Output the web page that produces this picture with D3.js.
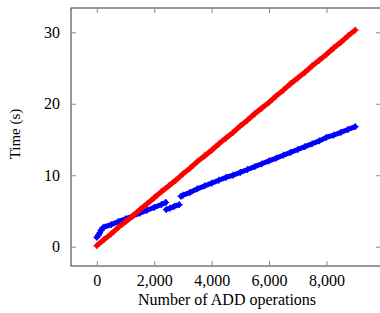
<!DOCTYPE html>
<html>
<head>
<meta charset="utf-8">
<script src="https://cdn.jsdelivr.net/npm/d3@7"></script>
<style>
  body { margin: 0; background: #fff; }
  text { font-family: "Liberation Serif", "DejaVu Serif", serif; fill: #000; }
</style>
</head>
<body>
<svg id="chart" width="380" height="313"></svg>
<script>
// red series (one continuous run)
var redOps  = [0, 250, 500, 750, 1000, 1250, 1500, 1750, 2000, 2250, 2500, 2750, 3000, 3250, 3500, 3750, 4000, 4250, 4500, 4750, 5000, 5250, 5500, 5750, 6000, 6250, 6500, 6750, 7000, 7250, 7500, 7750, 8000, 8250, 8500, 8750, 9000];
var redTime = [0.15, 1.0, 1.8, 2.7, 3.5, 4.3, 5.2, 6.0, 6.85, 7.7, 8.5, 9.3, 10.2, 11.0, 11.9, 12.7, 13.5, 14.4, 15.2, 16.0, 16.9, 17.7, 18.6, 19.4, 20.2, 21.1, 21.9, 22.8, 23.6, 24.4, 25.3, 26.1, 26.9, 27.8, 28.6, 29.5, 30.3];

// blue series, three runs with gaps between them
var blueOps1  = [0, 50, 100, 150, 200, 250, 500, 750, 1000, 1250, 1500, 1750, 2000, 2250, 2400];
var blueTime1 = [1.3, 1.6, 1.9, 2.3, 2.6, 2.75, 3.1, 3.5, 3.9, 4.3, 4.7, 5.1, 5.5, 5.9, 6.2];
var blueOps2  = [2420, 2550, 2700, 2870];
var blueTime2 = [5.2, 5.4, 5.65, 5.9];
var blueOps3  = [2930, 3000, 3250, 3500, 3750, 4000, 4250, 4500, 4750, 5000, 5250, 5500, 5750, 6000, 6250, 6500, 6750, 7000, 7250, 7500, 7750, 8000, 8250, 8500, 8750, 9000];
var blueTime3 = [7.05, 7.2, 7.6, 8.1, 8.5, 8.9, 9.3, 9.7, 10.0, 10.4, 10.8, 11.2, 11.6, 12.0, 12.4, 12.8, 13.2, 13.6, 14.0, 14.4, 14.8, 15.3, 15.6, 16.0, 16.4, 16.8];

var xTicks = [0, 2000, 4000, 6000, 8000];
var yTicks = [0, 10, 20, 30];

var svg = d3.select("#chart");
var plotL = 71, plotR = 381, plotT = 8, plotB = 266;

var x = d3.scaleLinear().domain([-900, 9900]).range([plotL, plotR]);
var y = d3.scaleLinear().domain([-2.7, 33.4]).range([plotB, plotT]);

function zip(a, b) { return a.map(function (v, i) { return [v, b[i]]; }); }

var runs = [
  { pts: zip(redOps, redTime), color: "#ff0000" },
  { pts: zip(blueOps1, blueTime1), color: "#0000ff" },
  { pts: zip(blueOps2, blueTime2), color: "#0000ff" },
  { pts: zip(blueOps3, blueTime3), color: "#0000ff" }
];

// draw blue first, red on top
var order = [1, 2, 3, 0];

var line = d3.line()
  .x(function (d) { return x(d[0]); })
  .y(function (d) { return y(d[1]); });

var plot = svg.append("g");

order.forEach(function (k) {
  var r = runs[k];
  plot.append("path")
    .datum(r.pts)
    .attr("d", line)
    .attr("fill", "none")
    .attr("stroke", r.color)
    .attr("stroke-width", 5)
    .attr("stroke-linecap", "round");

  // "+" marks
  var ms = 3.4;
  plot.selectAll(null)
    .data(r.pts).enter()
    .append("path")
    .attr("d", function (d) {
      var cx = x(d[0]), cy = y(d[1]);
      return "M" + (cx - ms) + "," + cy + "H" + (cx + ms) +
             "M" + cx + "," + (cy - ms) + "V" + (cy + ms);
    })
    .attr("stroke", r.color)
    .attr("stroke-width", 1.3);
});

// frame
svg.append("rect")
  .attr("x", plotL).attr("y", plotT)
  .attr("width", plotR - plotL).attr("height", plotB - plotT)
  .attr("fill", "none")
  .attr("stroke", "#333")
  .attr("stroke-width", 1);

// x axis (ticks inward, mirrored at top)
var xAxis = d3.axisBottom(x).tickValues(xTicks)
  .tickSizeInner(-5).tickSizeOuter(0).tickPadding(9)
  .tickFormat(d3.format(","));
var gx = svg.append("g").attr("transform", "translate(0," + plotB + ")").call(xAxis);
gx.select(".domain").remove();
gx.selectAll("line").attr("stroke", "#888");
gx.selectAll("text").attr("font-size", 16).attr("font-family", "Liberation Serif");

var gxt = svg.append("g").attr("transform", "translate(0," + plotT + ")")
  .call(d3.axisTop(x).tickValues(xTicks).tickSizeInner(-5).tickSizeOuter(0).tickFormat(""));
gxt.select(".domain").remove();
gxt.selectAll("line").attr("stroke", "#888");

// y axis
var yAxis = d3.axisLeft(y).tickValues(yTicks)
  .tickSizeInner(-5).tickSizeOuter(0).tickPadding(11);
var gy = svg.append("g").attr("transform", "translate(" + plotL + ",0)").call(yAxis);
gy.select(".domain").remove();
gy.selectAll("line").attr("stroke", "#888");
gy.selectAll("text").attr("font-size", 16).attr("font-family", "Liberation Serif");

var gyr = svg.append("g").attr("transform", "translate(" + plotR + ",0)")
  .call(d3.axisRight(y).tickValues(yTicks).tickSizeInner(-5).tickSizeOuter(0).tickFormat(""));
gyr.select(".domain").remove();
gyr.selectAll("line").attr("stroke", "#888");

// axis labels
svg.append("text")
  .attr("x", 227).attr("y", 305)
  .attr("text-anchor", "middle")
  .attr("font-size", 16)
  .text("Number of ADD operations");

svg.append("text")
  .attr("transform", "translate(20,134) rotate(-90)")
  .attr("text-anchor", "middle")
  .attr("font-size", 15)
  .text("Time (s)");
</script>
</body>
</html>
